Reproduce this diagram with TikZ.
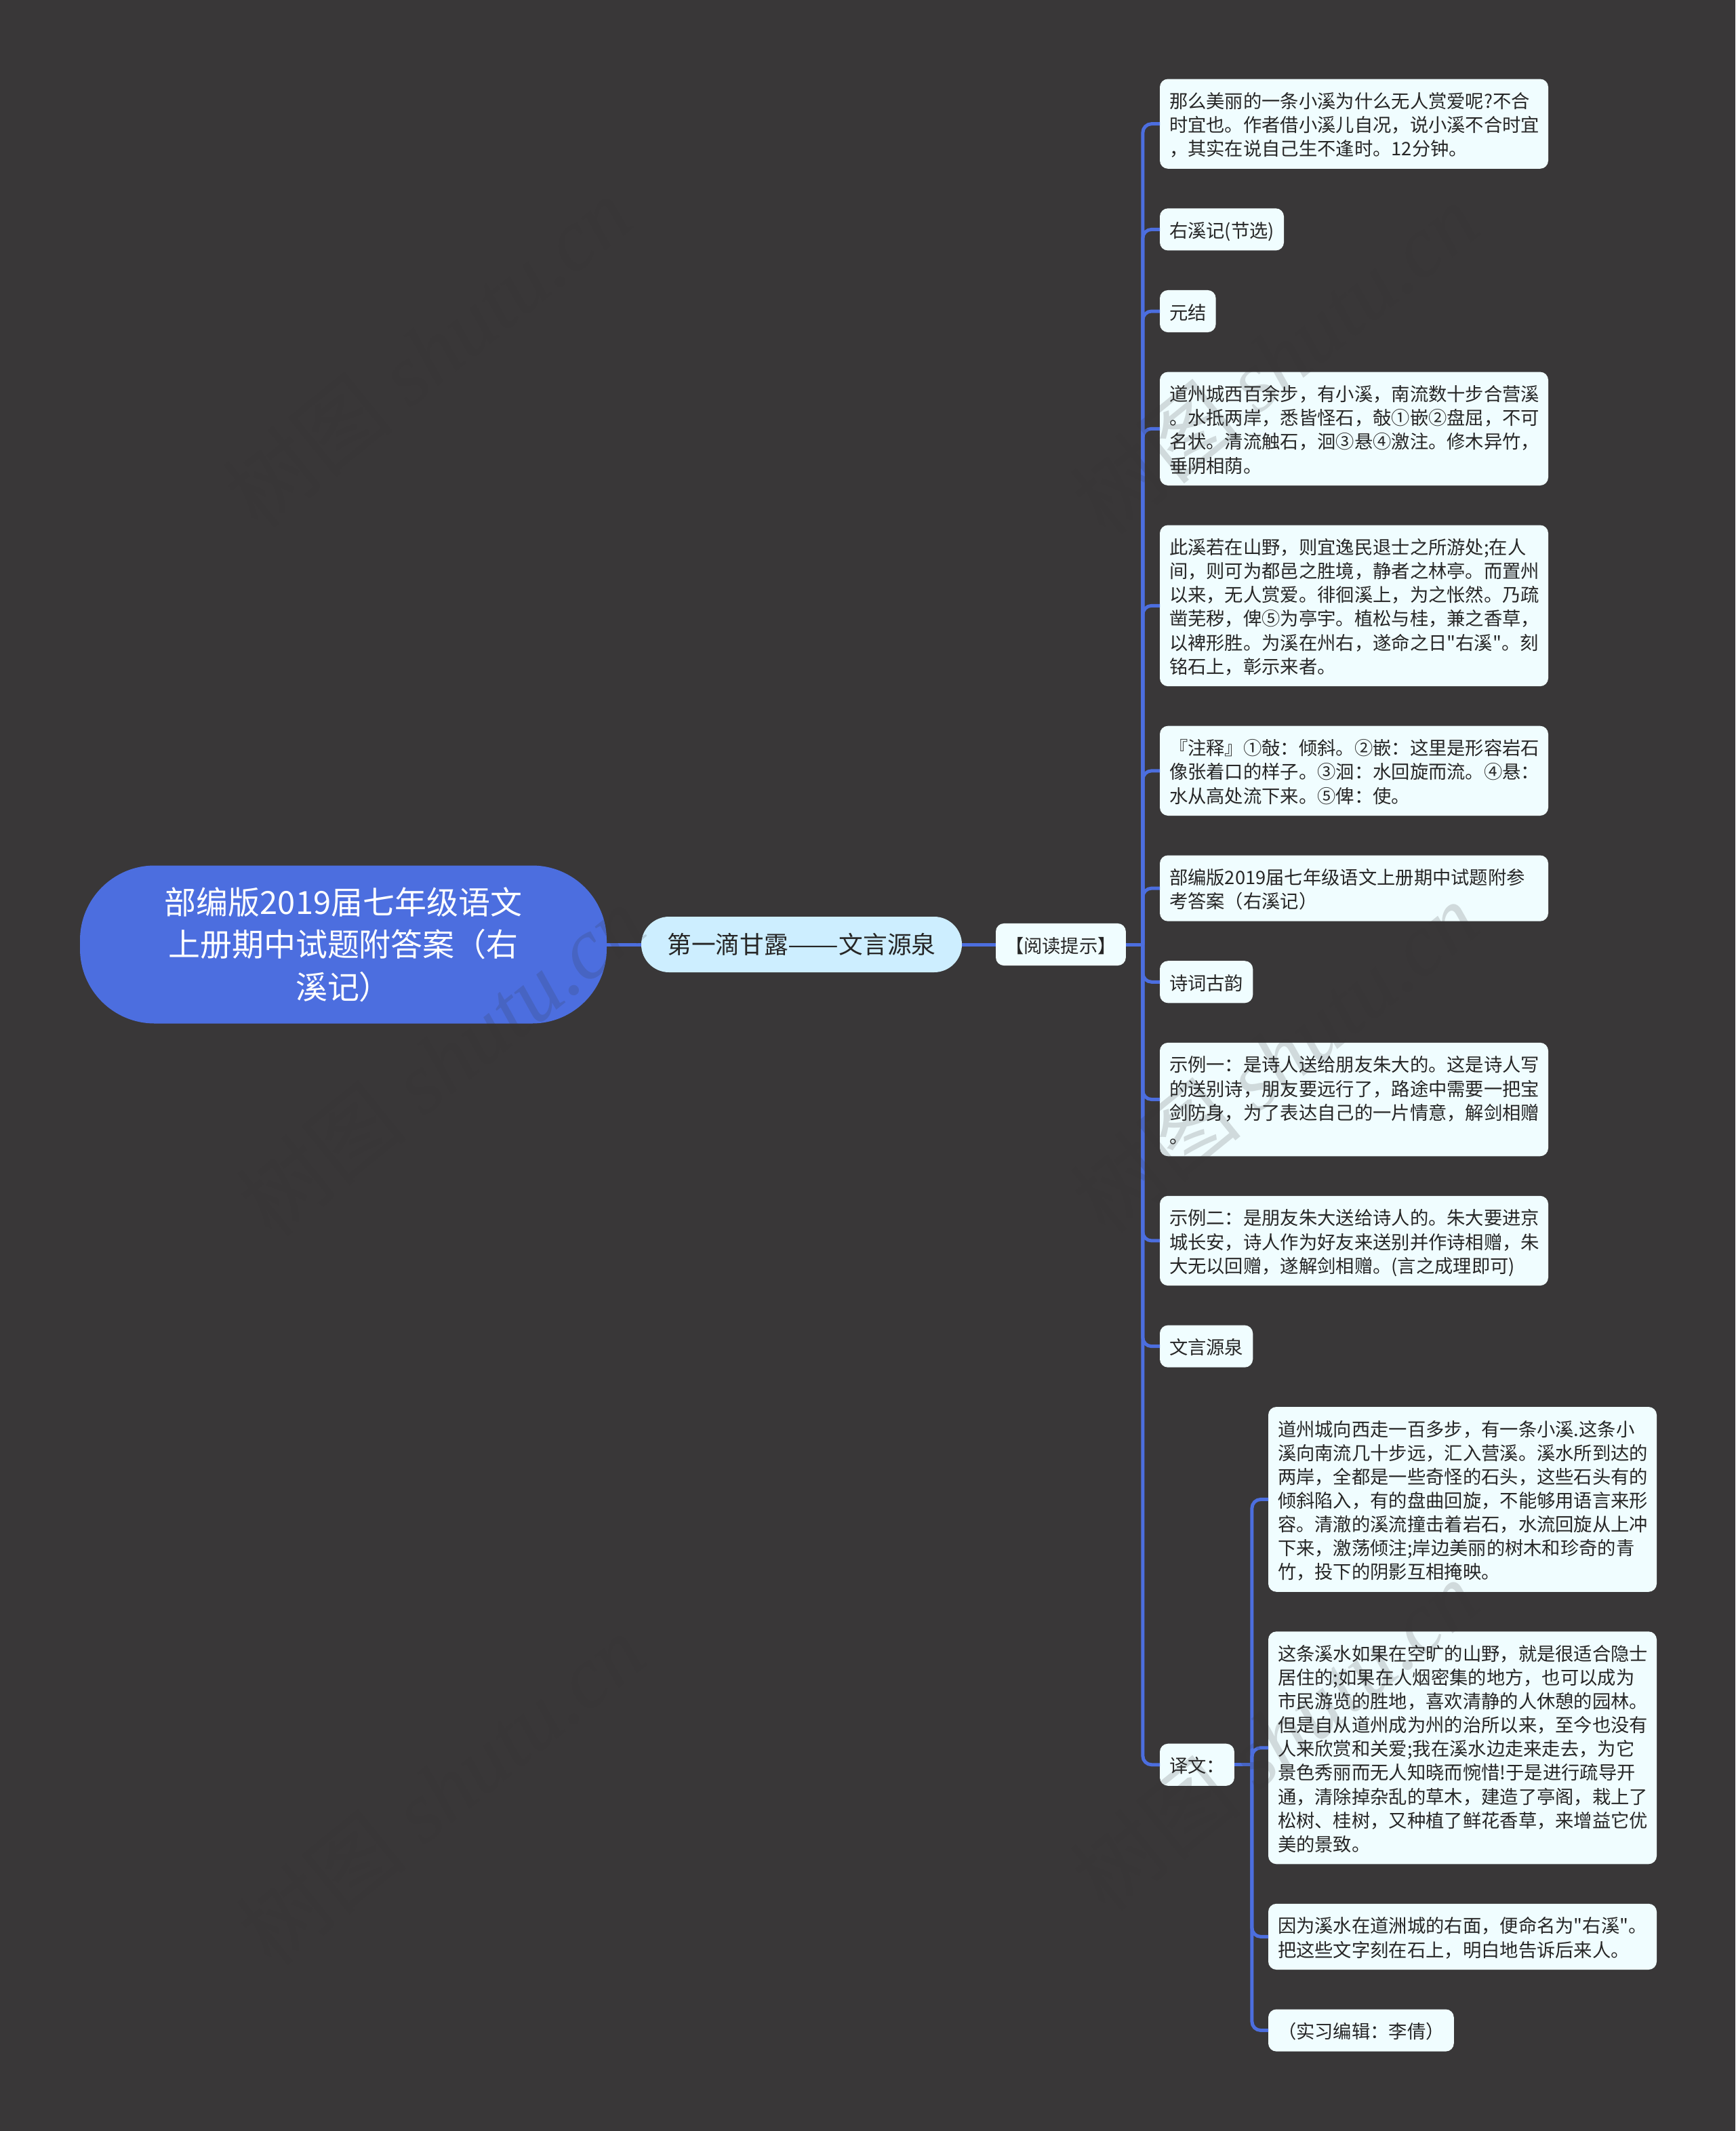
\documentclass[tikz,border=0pt]{standalone}
\usepackage{graphicx}
\usepackage{fontspec}
\setmainfont{Noto Sans CJK SC}[Ligatures=TeXOff]
\newfontfamily\wmfont{Liberation Serif}
\usetikzlibrary{positioning}

\definecolor{pagedark}{HTML}{393738}
\definecolor{rootblue}{HTML}{4C6EDF}
\definecolor{subblue}{HTML}{CDEEFF}
\definecolor{leafwhite}{HTML}{F0FDFF}
\definecolor{inkdark}{HTML}{262626}
\definecolor{wmgrey}{HTML}{343334}

\newcommand{\leafstrut}{\rule[-1.56pt]{0pt}{9.99pt}}

\begin{document}
\begin{tikzpicture}[
    rootbox/.style={rectangle, outer sep=0pt, fill=rootblue, text=white, align=center, minimum width=7.77cm, minimum height=2.33cm, rounded corners=1.1cm, font=\fontsize{13.37}{17.8}\selectfont},
    subbox/.style={rectangle, outer sep=0pt, fill=subblue, text=inkdark, minimum width=4.73cm, minimum height=0.82cm, rounded corners=0.41cm, font=\fontsize{10.16}{13}\selectfont},
    leaf/.style={rectangle, outer sep=0pt, fill=leafwhite, text=inkdark, inner xsep=0.14cm, inner ysep=0.135cm, rounded corners=0.12cm, font=\fontsize{7.77}{9.99}\selectfont, execute at begin node=\leafstrut, execute at end node=\leafstrut},
    leafwide/.style={leaf, text width=5.45cm, align=left},
    link/.style={draw=rootblue, line width=0.05cm},
    branch/.style={link, rounded corners=0.13cm},
    wmark/.style={rotate=39, text=wmgrey, text opacity=0.17, font=\fontsize{36.5}{38}\selectfont}
]
    \fill[pagedark] (0,0) rectangle (25.6,-31.43);

    \node[rootbox] (root) at (5.065,-13.93) {部编版2019届七年级语文\\上册期中试题附答案（右\\溪记）};
    \node[subbox, right=0.51cm of root] (sweet) {第一滴甘露\scalebox{1.25}[1]{——}文言源泉};
    \node[leaf, right=0.5cm of sweet] (hint) {【阅读提示】};

    \node[leafwide, anchor=north west] (why) at (17.11,-1.165) {那么美丽的一条小溪为什么无人赏爱呢?不合\\时宜也。作者借小溪儿自况，说小溪不合时宜\\，其实在说自己生不逢时。12分钟。};
    \node[leaf, below=0.585cm of why.south west, anchor=north west] (title) {右溪记(节选)};
    \node[leaf, below=0.585cm of title.south west, anchor=north west] (author) {元结};
    \node[leafwide, below=0.585cm of author.south west, anchor=north west] (para) {道州城西百余步，有小溪，南流数十步合营溪\\。水抵两岸，悉皆怪石，敧①嵌②盘屈，不可\\名状。清流触石，洄③悬④激注。修木异竹，\\垂阴相荫。};
    \node[leafwide, below=0.585cm of para.south west, anchor=north west] (parb) {此溪若在山野，则宜逸民退士之所游处;在人\\间，则可为都邑之胜境，静者之林亭。而置州\\以来，无人赏爱。徘徊溪上，为之怅然。乃疏\\凿芜秽，俾⑤为亭宇。植松与桂，兼之香草，\\以裨形胜。为溪在州右，遂命之日"右溪"。刻\\铭石上，彰示来者。};
    \node[leafwide, below=0.585cm of parb.south west, anchor=north west] (notes) {『注释』①敧：倾斜。②嵌：这里是形容岩石\\像张着口的样子。③洄：水回旋而流。④悬：\\水从高处流下来。⑤俾：使。};
    \node[leafwide, below=0.585cm of notes.south west, anchor=north west] (answer) {部编版2019届七年级语文上册期中试题附参\\考答案（右溪记）};
    \node[leaf, below=0.585cm of answer.south west, anchor=north west] (poem) {诗词古韵};
    \node[leafwide, below=0.585cm of poem.south west, anchor=north west] (casea) {示例一：是诗人送给朋友朱大的。这是诗人写\\的送别诗，朋友要远行了，路途中需要一把宝\\剑防身，为了表达自己的一片情意，解剑相赠\\。};
    \node[leafwide, below=0.585cm of casea.south west, anchor=north west] (caseb) {示例二：是朋友朱大送给诗人的。朱大要进京\\城长安，诗人作为好友来送别并作诗相赠，朱\\大无以回赠，遂解剑相赠。(言之成理即可)};
    \node[leaf, below=0.585cm of caseb.south west, anchor=north west] (source) {文言源泉};
    \node[leaf, below=5.55cm of source.south west, anchor=north west] (trans) {译文：};

    \node[leafwide, anchor=north west] (transa) at (18.71,-20.75) {道州城向西走一百多步，有一条小溪.这条小\\溪向南流几十步远，汇入营溪。溪水所到达的\\两岸，全都是一些奇怪的石头，这些石头有的\\倾斜陷入，有的盘曲回旋，不能够用语言来形\\容。清澈的溪流撞击着岩石，水流回旋从上冲\\下来，激荡倾注;岸边美丽的树木和珍奇的青\\竹，投下的阴影互相掩映。};
    \node[leafwide, below=0.585cm of transa.south west, anchor=north west] (transb) {这条溪水如果在空旷的山野，就是很适合隐士\\居住的;如果在人烟密集的地方，也可以成为\\市民游览的胜地，喜欢清静的人休憩的园林。\\但是自从道州成为州的治所以来，至今也没有\\人来欣赏和关爱;我在溪水边走来走去，为它\\景色秀丽而无人知晓而惋惜!于是进行疏导开\\通，清除掉杂乱的草木，建造了亭阁，栽上了\\松树、桂树，又种植了鲜花香草，来增益它优\\美的景致。};
    \node[leafwide, below=0.585cm of transb.south west, anchor=north west] (transc) {因为溪水在道洲城的右面，便命名为"右溪"。\\把这些文字刻在石上，明白地告诉后来人。};
    \node[leaf, below=0.585cm of transc.south west, anchor=north west] (editor) {（实习编辑：李倩）};

    \coordinate[right=0.25cm of hint.east] (hintfork);
    \coordinate[right=0.26cm of trans.east] (transfork);

    \draw[link] (root) -- (sweet);
    \draw[link] (sweet) -- (hint);
    \draw[link] (hint) -- (hintfork);
    \draw[branch] (hintfork) |- (why.west);
    \draw[branch] (hintfork) |- (title.west);
    \draw[branch] (hintfork) |- (author.west);
    \draw[branch] (hintfork) |- (para.west);
    \draw[branch] (hintfork) |- (parb.west);
    \draw[branch] (hintfork) |- (notes.west);
    \draw[branch] (hintfork) |- (answer.west);
    \draw[branch] (hintfork) |- (poem.west);
    \draw[branch] (hintfork) |- (casea.west);
    \draw[branch] (hintfork) |- (caseb.west);
    \draw[branch] (hintfork) |- (source.west);
    \draw[branch] (hintfork) |- (trans.west);
    \draw[link] (trans) -- (transfork);
    \draw[branch] (transfork) |- (transa.west);
    \draw[branch] (transfork) |- (transb.west);
    \draw[branch] (transfork) |- (transc.west);
    \draw[branch] (transfork) |- (editor.west);

    \node[wmark] (marka) at (6.3,-5.2) {树图 {\wmfont\itshape shutu.cn}};
    \node[wmark] (markb) at (6.5,-15.65) {树图 {\wmfont\itshape shutu.cn}};
    \node[wmark] (markc) at (6.5,-26.4) {树图 {\wmfont\itshape shutu.cn}};
    \node[wmark] (markd) at (18.8,-5.3) {树图 {\wmfont\itshape shutu.cn}};
    \node[wmark] (marke) at (18.8,-15.6) {树图 {\wmfont\itshape shutu.cn}};
    \node[wmark] (markf) at (18.8,-25.6) {树图 {\wmfont\itshape shutu.cn}};
\end{tikzpicture}
\end{document}
